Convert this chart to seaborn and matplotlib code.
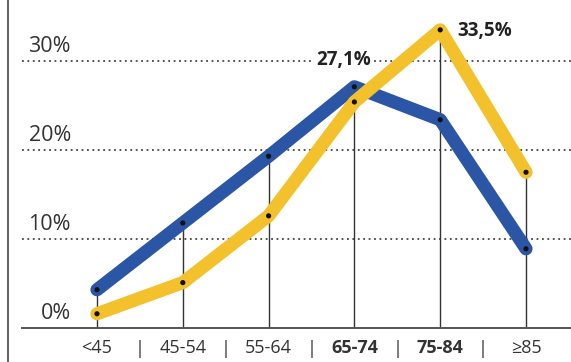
import matplotlib
matplotlib.use("Agg")
import matplotlib.pyplot as plt
import seaborn as sns
import pandas as pd
from matplotlib.lines import Line2D

categories = ["<45", "45-54", "55-64", "65-74", "75-84", "≥85"]
bold_categories = ["65-74", "75-84"]
blue_values = [4.3, 11.8, 19.3, 27.1, 23.4, 8.9]
yellow_values = [1.6, 5.1, 12.6, 25.4, 33.5, 17.5]
y_ticks = [0, 10, 20, 30]
annotations = {"blue": (3, 27.1, "27,1%"), "yellow": (4, 33.5, "33,5%")}

BLUE = "#2b56a5"
YELLOW = "#f3c12c"

sns.set_theme(style="white")
plt.rcParams["font.family"] = ["Open Sans", "DejaVu Sans"]

W, H = 571, 362
fig = plt.figure(figsize=(W / 100, H / 100), dpi=100)
ax_bottom_px = 328
ax = fig.add_axes([0, (H - ax_bottom_px) / H, 1, ax_bottom_px / H])

x0_px, dx_px = 97, 85.8
ppu = 8.9  # px per percent
ax.set_xlim(-x0_px / dx_px, (W - x0_px) / dx_px)
ax.set_ylim(0, ax_bottom_px / ppu)

idx = list(range(len(categories)))
df = pd.DataFrame({
    "idx": idx * 2,
    "value": blue_values + yellow_values,
    "series": ["blue"] * len(idx) + ["yellow"] * len(idx),
})

# vertical drop lines
tops = [max(b, y) for b, y in zip(blue_values, yellow_values)]
ax.vlines(idx, 0, tops, color="#333333", lw=1.0, zorder=1)

# dotted gridlines
xmin_frac = 22 / W
for t in y_ticks[1:]:
    ax.axhline(t, xmin=xmin_frac, xmax=1, color="#444444", lw=1.3,
               ls=(0, (1, 2.0)), zorder=0.5)

sns.lineplot(data=df[df.series == "blue"], x="idx", y="value", color=BLUE,
             lw=9.5, solid_capstyle="round", solid_joinstyle="round",
             ax=ax, zorder=2, legend=False)
sns.lineplot(data=df[df.series == "yellow"], x="idx", y="value", color=YELLOW,
             lw=9.5, solid_capstyle="round", solid_joinstyle="round",
             ax=ax, zorder=3, legend=False)
sns.scatterplot(data=df, x="idx", y="value", color="#111111", s=14,
                edgecolor="none", ax=ax, zorder=5, legend=False)

# y tick labels
label_x = (71 - x0_px) / dx_px
for t in y_ticks:
    ax.text(label_x, t + 0.4, f"{t}%", ha="right", va="bottom",
            fontsize=15.5, color="#333333", zorder=6)

# annotations
i, v, txt = annotations["blue"]
ax.text(i - 0.12, v + 3.0, txt, ha="center", va="center",
        fontsize=13.5, fontweight="bold", color="#222222", zorder=6,
        bbox=dict(boxstyle="square,pad=0.15", fc="white", ec="none"))
i, v, txt = annotations["yellow"]
ax.text(i + 0.2, v - 0.1, txt, ha="left", va="center",
        fontsize=13.5, fontweight="bold", color="#222222", zorder=6)

# x axis
for s in ["left", "right", "top"]:
    ax.spines[s].set_visible(False)
ax.spines["bottom"].set_color("#555555")
ax.spines["bottom"].set_linewidth(1.4)
ax.spines["bottom"].set_bounds((22 - x0_px) / dx_px, (W - x0_px) / dx_px)
ax.set_xticks(idx)
ax.set_xticklabels(categories)
for lab in ax.get_xticklabels():
    lab.set_fontsize(13)
    lab.set_color("#333333")
    if lab.get_text() in bold_categories:
        lab.set_fontweight("bold")
ax.tick_params(axis="x", length=0, pad=8)
ax.set_yticks([])
ax.set_xlabel("")
ax.set_ylabel("")

# separators
for i in idx[:-1]:
    ax.text(i + 0.5, -1.3, "|", ha="center", va="top", fontsize=13,
            color="#333333", clip_on=False, transform=ax.transData)

# left frame line
fig.add_artist(Line2D([8 / W, 8 / W], [0, 1], color="#666666", lw=1.5))

fig.savefig("out.png", dpi=100)
